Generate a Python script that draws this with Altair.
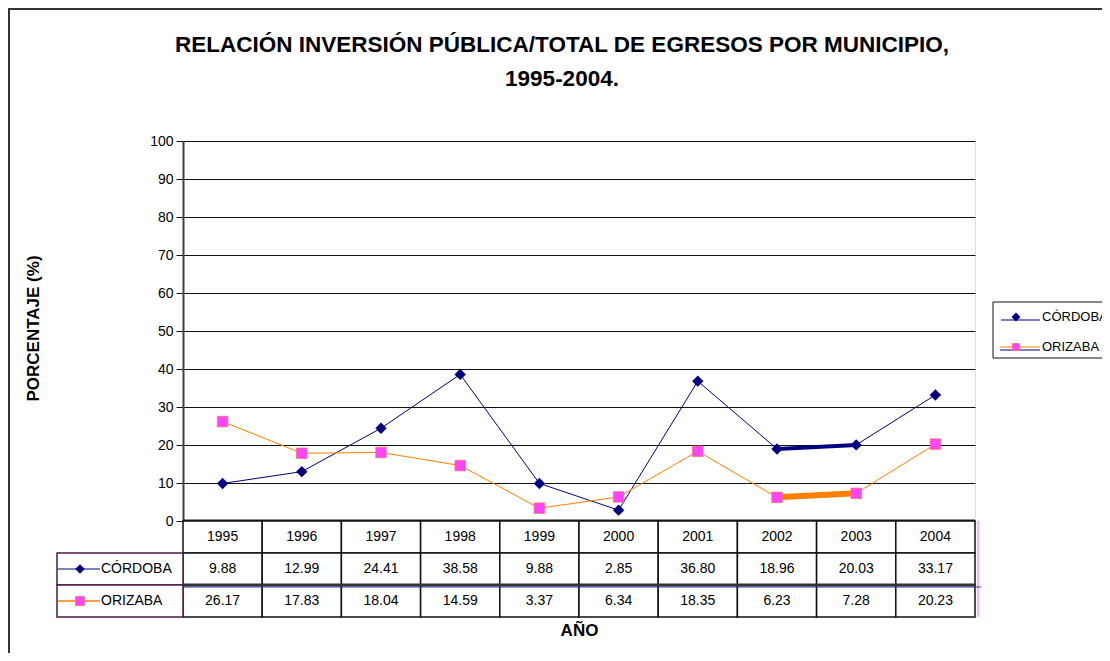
import altair as alt
import pandas as pd

# ---- data ----
years = [1995, 1996, 1997, 1998, 1999, 2000, 2001, 2002, 2003, 2004]
cordoba = [9.88, 12.99, 24.41, 38.58, 9.88, 2.85, 36.80, 18.96, 20.03, 33.17]
orizaba = [26.17, 17.83, 18.04, 14.59, 3.37, 6.34, 18.35, 6.23, 7.28, 20.23]
series = ["CÓRDOBA", "ORIZABA"]
highlight_years = [2002, 2003]
y_ticks = [0, 10, 20, 30, 40, 50, 60, 70, 80, 90, 100]
rows = ["AÑO_ROW", "CÓRDOBA", "ORIZABA"]

title_lines = ["RELACIÓN INVERSIÓN PÚBLICA/TOTAL DE EGRESOS POR MUNICIPIO,", "1995-2004."]

FONT = "Liberation Sans"
W, H = 792, 380
TABLE_H = 96
NAVY = "#000080"
ORANGE = "#FF8000"
PINK = "#FF44FF"

long = pd.DataFrame(
    {"year": years * 2,
     "serie": [series[0]] * len(years) + [series[1]] * len(years),
     "value": cordoba + orizaba}
)

xs = alt.Scale(type="band", domain=years, paddingInner=0, paddingOuter=0)
ys = alt.Scale(domain=[0, 100])

x_axis = alt.Axis(title="AÑO", labels=False, ticks=False, domain=False, grid=False,
                  titlePadding=101, titleFont=FONT, titleFontSize=17,
                  titleFontWeight="bold", titleColor="#000")
y_axis = alt.Axis(values=y_ticks, title="PORCENTAJE (%)", grid=True,
                  gridColor="#111", gridWidth=1, domainColor="#404040",
                  domainWidth=2, tickColor="#111", tickSize=7,
                  labelFont=FONT, labelFontSize=14, labelColor="#000",
                  labelPadding=3, titleFont=FONT, titleFontSize=17,
                  titleFontWeight="bold", titleColor="#000",
                  titleX=-150, titleY=H / 2 - 3, titleBaseline="middle",
                  titleAngle=270)

def xc():
    return alt.X("year:O", scale=xs, bandPosition=0.5, axis=x_axis)

def yv():
    return alt.Y("value:Q", scale=ys, axis=y_axis)

base = alt.Chart(long)

def line_layer(s, color, width, extra=None):
    c = base.transform_filter(alt.datum.serie == s)
    if extra is not None:
        c = c.transform_filter(alt.FieldOneOfPredicate(field="year", oneOf=extra))
    return c.mark_line(color=color, strokeWidth=width).encode(x=xc(), y=yv())

l_c = line_layer(series[0], NAVY, 1)
l_o = line_layer(series[1], ORANGE, 1)
t_c = line_layer(series[0], NAVY, 4, highlight_years)
t_o = line_layer(series[1], ORANGE, 6, highlight_years)
p_c = base.transform_filter(alt.datum.serie == series[0]).mark_point(
    shape="diamond", filled=True, size=130, color=NAVY, opacity=1).encode(x=xc(), y=yv())
p_o = base.transform_filter(alt.datum.serie == series[1]).mark_point(
    shape="square", filled=True, size=110, fill=PINK, stroke="#FF7070",
    strokeWidth=0.8, opacity=1).encode(x=xc(), y=yv())
zdf = pd.DataFrame({"value": [0]})
zero_pink = alt.Chart(zdf).mark_rule(
    color="#FF99FF", strokeWidth=1.5, yOffset=2.5).encode(y=yv())
zero = alt.Chart(zdf).mark_rule(color="#222", strokeWidth=3).encode(y=yv())

main = alt.layer(l_c, l_o, t_c, t_o, p_c, p_o, zero_pink, zero)

# ---- data table ----
cells = []
for i, yr in enumerate(years):
    cells.append({"row": rows[0], "year": yr, "txt": str(yr)})
    cells.append({"row": rows[1], "year": yr, "txt": f"{cordoba[i]:.2f}"})
    cells.append({"row": rows[2], "year": yr, "txt": f"{orizaba[i]:.2f}"})
cells = pd.DataFrame(cells)
rs = alt.Scale(type="band", domain=rows, range=[H, H + TABLE_H], paddingInner=0, paddingOuter=0)

tbase = alt.Chart(cells)
t_rect = tbase.mark_rect(fill="white", stroke="#111", strokeWidth=1.5).encode(
    x=alt.X("year:O", scale=xs, axis=None), y=alt.Y("row:N", scale=rs, axis=None))
t_text = tbase.mark_text(font=FONT, fontSize=14, color="#000", baseline="middle").encode(
    x=alt.X("year:O", scale=xs, bandPosition=0.5, axis=None),
    y=alt.Y("row:N", scale=rs, bandPosition=0.5, axis=None),
    text="txt:N")
sep = alt.Chart(pd.DataFrame({"row": [rows[2]]}))
t_sep = sep.mark_rule(color="#333", strokeWidth=3).encode(
    x=alt.value(-126), x2=alt.value(W), y=alt.Y("row:N", scale=rs, bandPosition=0, axis=None))
t_sep2 = sep.mark_rule(color="#2233AA", strokeWidth=1, yOffset=2).encode(
    x=alt.value(-126), x2=alt.value(W + 6), y=alt.Y("row:N", scale=rs, bandPosition=0, axis=None))
t_pink = alt.Chart(pd.DataFrame({"row": [rows[0]]})).mark_rule(
    color="#FF99FF", strokeWidth=1.5).encode(
    x=alt.value(W + 3), y=alt.Y("row:N", scale=rs, bandPosition=0, axis=None),
    y2=alt.value(H + TABLE_H))
table = alt.layer(t_rect, t_text, t_pink, t_sep, t_sep2)

# ---- row labels of the table (with series keys) ----
lab = pd.DataFrame({"row": series})
lbase = alt.Chart(lab)
ly = alt.Y("row:N", scale=rs, bandPosition=0.5, axis=None)
lab_rect = lbase.mark_rect(fill="white", stroke="#4a1a4a", strokeWidth=1.5).encode(
    x=alt.value(-126), x2=alt.value(0), y=alt.Y("row:N", scale=rs, axis=None))
lab_line_c = lbase.transform_filter(alt.datum.row == series[0]).mark_rule(
    color=NAVY, strokeWidth=1).encode(x=alt.value(-125), x2=alt.value(-83), y=ly)
lab_line_o = lbase.transform_filter(alt.datum.row == series[1]).mark_rule(
    color=ORANGE, strokeWidth=1.5).encode(x=alt.value(-125), x2=alt.value(-83), y=ly)
lab_pt_c = lbase.transform_filter(alt.datum.row == series[0]).mark_point(
    shape="diamond", filled=True, size=90, color=NAVY, opacity=1).encode(x=alt.value(-103), y=ly)
lab_pt_o = lbase.transform_filter(alt.datum.row == series[1]).mark_point(
    shape="square", filled=True, size=80, fill=PINK, stroke="#FF7070",
    strokeWidth=0.8, opacity=1).encode(x=alt.value(-103), y=ly)
lab_txt = lbase.mark_text(font=FONT, fontSize=14, color="#000", align="left",
                          baseline="middle").encode(x=alt.value(-82), y=ly, text="row:N")
labels = alt.layer(lab_rect, lab_line_c, lab_line_o, lab_pt_c, lab_pt_o, lab_txt)

# ---- legend on the right ----
leg = pd.DataFrame({"serie": series})
gs = alt.Scale(type="point", domain=series, range=[176, 206], padding=0)
gy = alt.Y("serie:N", scale=gs, axis=None)
gbase = alt.Chart(leg)
leg_box = alt.Chart(pd.DataFrame({"k": [0]})).mark_rect(
    fill="white", stroke="#111", strokeWidth=1).encode(
    x=alt.value(810), x2=alt.value(960), y=alt.value(161), y2=alt.value(217))
leg_line_c = gbase.transform_filter(alt.datum.serie == series[0]).mark_rule(
    color=NAVY, strokeWidth=1.2, yOffset=3).encode(x=alt.value(818), x2=alt.value(857), y=gy)
leg_line_o = gbase.transform_filter(alt.datum.serie == series[1]).mark_rule(
    color=ORANGE, strokeWidth=1.2).encode(x=alt.value(817), x2=alt.value(857), y=gy)
leg_line_o2 = gbase.transform_filter(alt.datum.serie == series[1]).mark_rule(
    color=NAVY, strokeWidth=1, yOffset=3).encode(x=alt.value(817), x2=alt.value(857), y=gy)
leg_pt_c = gbase.transform_filter(alt.datum.serie == series[0]).mark_point(
    shape="diamond", filled=True, size=80, color=NAVY, opacity=1).encode(x=alt.value(833), y=gy)
leg_pt_o = gbase.transform_filter(alt.datum.serie == series[1]).mark_point(
    shape="square", filled=True, size=50, fill=PINK, stroke="#FF7070",
    strokeWidth=0.8, opacity=1).encode(x=alt.value(833), y=gy)
leg_txt = gbase.mark_text(font=FONT, fontSize=13, color="#000", align="left",
                          baseline="middle").encode(x=alt.value(859), y=gy, text="serie:N")
legend = alt.layer(leg_box, leg_line_c, leg_line_o, leg_line_o2, leg_pt_c, leg_pt_o, leg_txt)

# ---- title (two lines) ----
tdf = pd.DataFrame({"line": title_lines})
title = alt.Chart(tdf).mark_text(font=FONT, fontSize=22.5, fontWeight="bold", color="#000",
                                 align="center", baseline="alphabetic").encode(
    x=alt.value(379),
    y=alt.Y("line:N", scale=alt.Scale(type="point", domain=title_lines, range=[-89, -55],
                                      padding=0),
            axis=None),
    text="line:N")

# ---- outer frame ----
frame = alt.Chart(pd.DataFrame({"k": [0]})).mark_rect(
    fill=None, stroke="#333", strokeWidth=2).encode(
    x=alt.value(-174), x2=alt.value(1100), y=alt.value(-132), y2=alt.value(800))

chart = alt.layer(frame, main, table, labels, legend, title).resolve_scale(
    x="independent", y="independent"
).properties(
    width=W, height=H,
    padding={"left": 175, "top": 133, "right": 127, "bottom": 132},
    autosize=alt.AutoSizeParams(type="none"),
).configure_view(stroke="#808080", strokeWidth=1).configure(background="white")

chart.save("out.html", embed_options={"renderer": "svg", "actions": False})
